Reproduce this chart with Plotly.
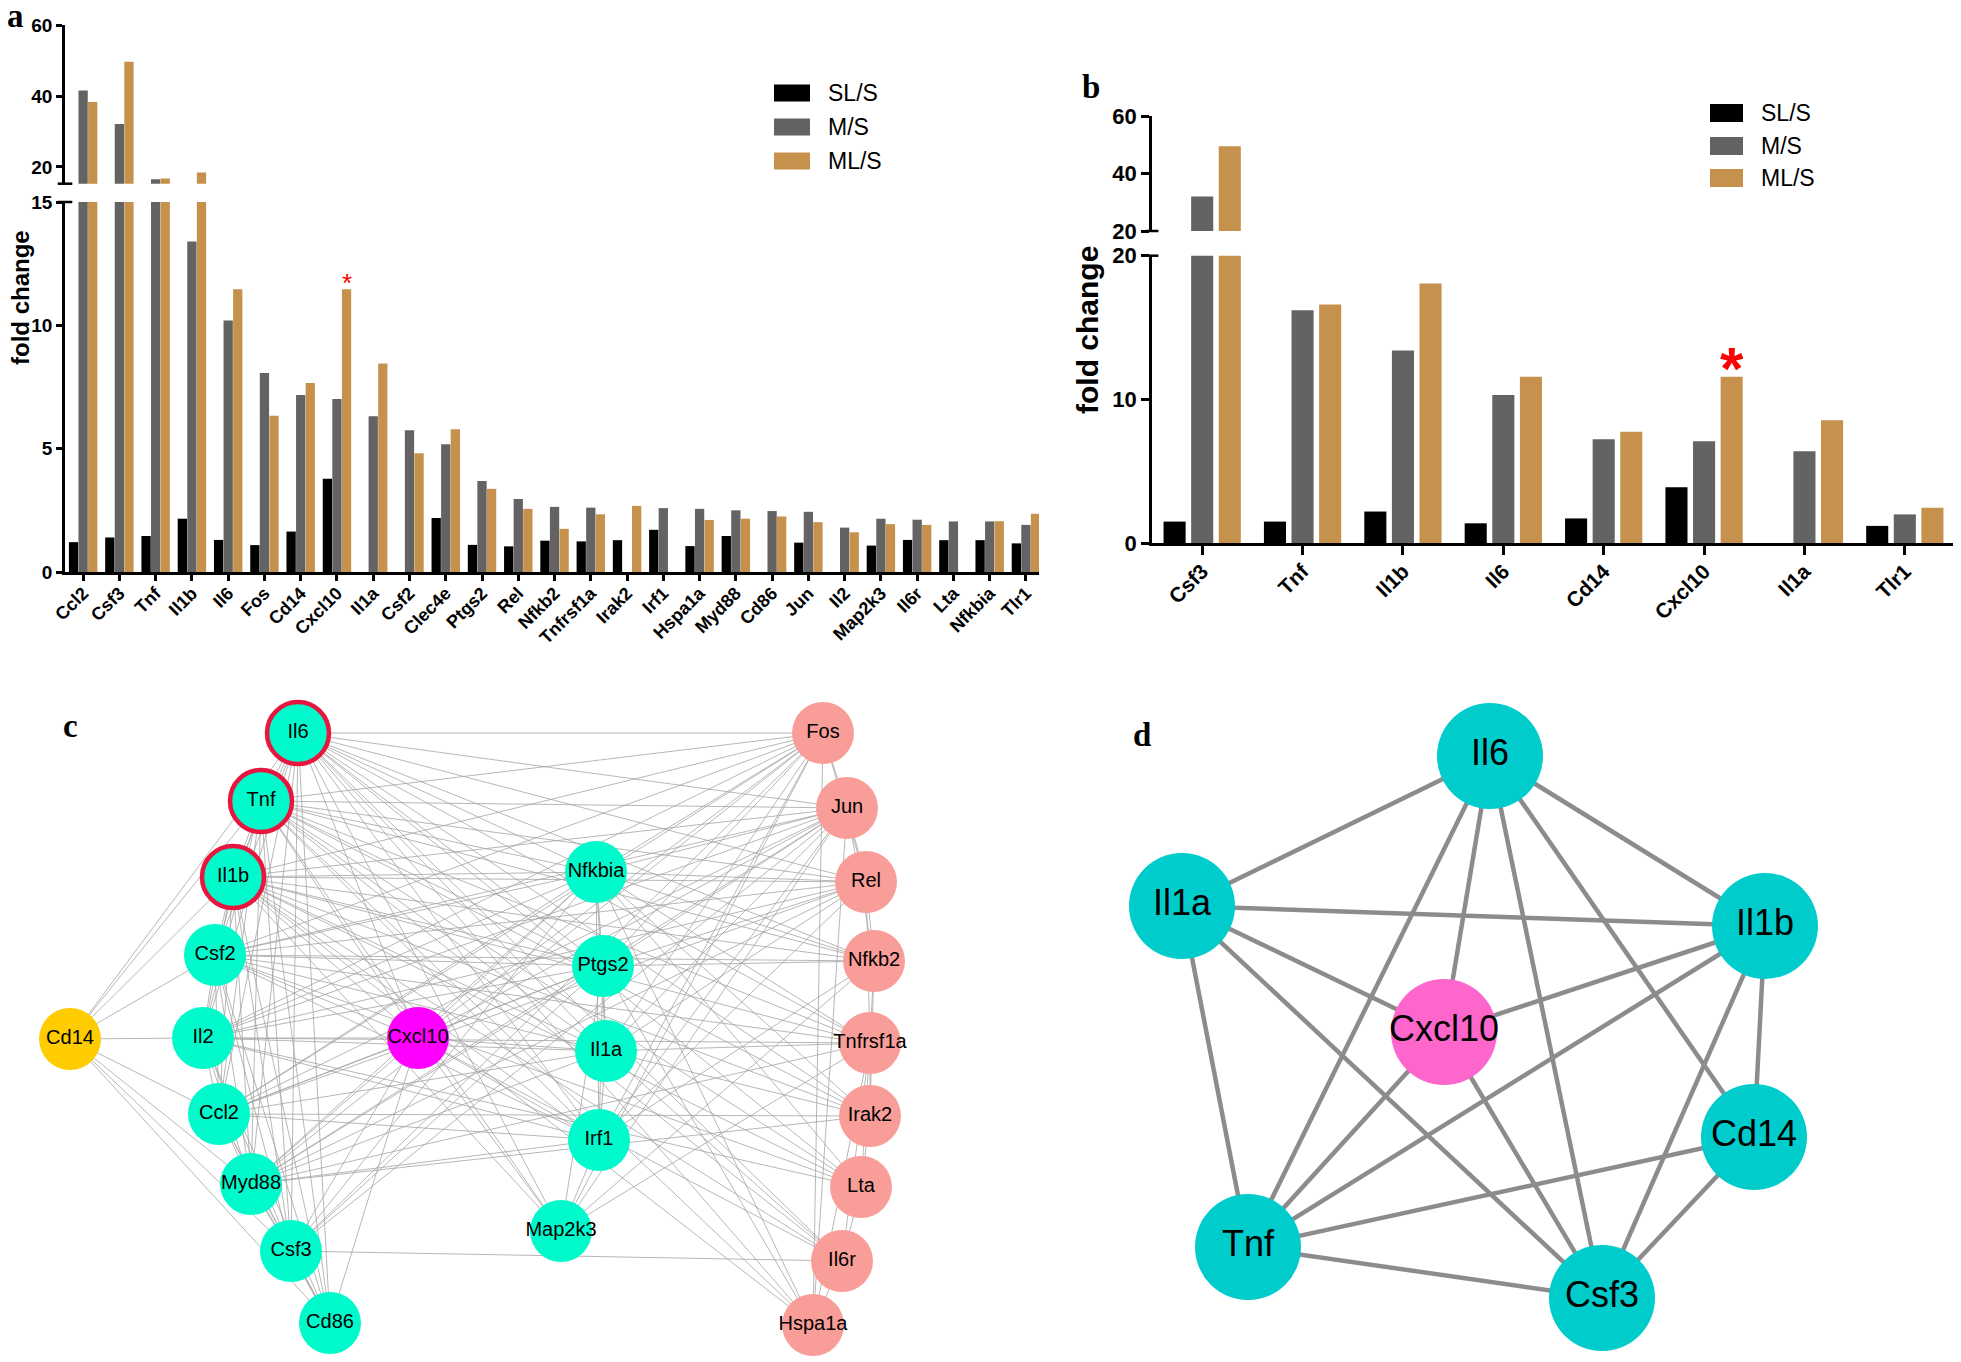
import plotly.graph_objects as go

W, H = 1961, 1362
PAD = 8                      # browser body margin
FW, FH = W - PAD, H - PAD    # figure size

# ---------------- Panel a data ----------------
genes_a = ["Ccl2", "Csf3", "Tnf", "Il1b", "Il6", "Fos", "Cd14", "Cxcl10", "Il1a", "Csf2",
           "Clec4e", "Ptgs2", "Rel", "Nfkb2", "Tnfrsf1a", "Irak2", "Irf1", "Hspa1a", "Myd88",
           "Cd86", "Jun", "Il2", "Map2k3", "Il6r", "Lta", "Nfkbia", "Tlr1"]
sl_a = [1.21, 1.40, 1.46, 2.16, 1.30, 1.09, 1.64, 3.78, 0, 0, 2.19, 1.10, 1.04, 1.27, 1.24,
        1.29, 1.71, 1.05, 1.46, 0, 1.19, 0, 1.07, 1.30, 1.29, 1.29, 1.16]
m_a = [41.6, 32.1, 16.5, 13.4, 10.2, 8.07, 7.18, 7.01, 6.31, 5.75, 5.18, 3.69, 2.96, 2.64,
       2.61, 0, 2.59, 2.56, 2.50, 2.47, 2.44, 1.80, 2.16, 2.12, 2.05, 2.05, 1.91]
ml_a = [38.3, 49.7, 16.7, 18.4, 11.46, 6.33, 7.66, 11.46, 8.45, 4.81, 5.79, 3.37, 2.56, 1.75,
        2.34, 2.68, 0, 2.11, 2.16, 2.25, 2.02, 1.61, 1.94, 1.91, 0, 2.06, 2.36]

# ---------------- Panel b data ----------------
genes_b = ["Csf3", "Tnf", "Il1b", "Il6", "Cd14", "Cxcl10", "Il1a", "Tlr1"]
sl_b = [1.49, 1.49, 2.19, 1.37, 1.71, 3.88, 0, 1.19]
m_b = [32.0, 16.2, 13.4, 10.3, 7.23, 7.08, 6.39, 1.99]
ml_b = [49.6, 16.6, 18.06, 11.58, 7.75, 11.58, 8.55, 2.46]

series_names = ["SL/S", "M/S", "ML/S"]
series_colors = ["#000000", "#636363", "#C5914D"]

# ---------------- Panel c network ----------------
c_nodes = ["Il6", "Tnf", "Il1b", "Csf2", "Cd14", "Il2", "Cxcl10", "Ccl2", "Myd88", "Csf3", "Cd86",
           "Nfkbia", "Ptgs2", "Il1a", "Irf1", "Map2k3",
           "Fos", "Jun", "Rel", "Nfkb2", "Tnfrsf1a", "Irak2", "Lta", "Il6r", "Hspa1a"]
c_x = [298, 261, 233, 215, 70, 203, 418, 219, 251, 291, 330,
       596, 603, 606, 599, 561,
       823, 847, 866, 874, 870, 870, 861, 842, 813]
c_y = [733, 801, 877, 955, 1039, 1038, 1038, 1114, 1184, 1251, 1323,
       872, 966, 1051, 1140, 1231,
       733, 808, 882, 961, 1043, 1116, 1187, 1261, 1325]
c_group = ["hub", "hub", "hub", "core", "cd14", "core", "cxcl10", "core", "core", "core", "core",
           "core", "core", "core", "core", "core",
           "tf", "tf", "tf", "tf", "tf", "tf", "tf", "tf", "tf"]
c_edges = {
    "Il6": "Tnf Il1b Csf2 Il2 Ccl2 Myd88 Csf3 Cd86 Cd14 Cxcl10 Nfkbia Ptgs2 Il1a Irf1 Map2k3 Fos Jun Rel Nfkb2 Tnfrsf1a Irak2 Lta Il6r Hspa1a",
    "Tnf": "Il1b Csf2 Il2 Ccl2 Myd88 Csf3 Cd86 Cd14 Cxcl10 Nfkbia Ptgs2 Il1a Irf1 Map2k3 Fos Jun Rel Nfkb2 Tnfrsf1a Irak2 Lta Il6r Hspa1a",
    "Il1b": "Csf2 Il2 Ccl2 Myd88 Csf3 Cd86 Cd14 Cxcl10 Nfkbia Ptgs2 Il1a Irf1 Map2k3 Fos Jun Rel Nfkb2 Tnfrsf1a Irak2 Lta Il6r Hspa1a",
    "Csf2": "Il2 Ccl2 Myd88 Csf3 Cd86 Cd14 Cxcl10 Nfkbia Ptgs2 Il1a Irf1 Fos Jun Rel Nfkb2 Tnfrsf1a Lta",
    "Il2": "Ccl2 Myd88 Csf3 Cd86 Cd14 Cxcl10 Nfkbia Ptgs2 Il1a Irf1 Fos Jun Rel Lta Tnfrsf1a",
    "Ccl2": "Myd88 Csf3 Cd86 Cd14 Cxcl10 Nfkbia Ptgs2 Il1a Irf1 Fos Jun Rel Irak2",
    "Myd88": "Csf3 Cd86 Cd14 Cxcl10 Nfkbia Ptgs2 Il1a Irf1 Irak2 Tnfrsf1a Jun Rel Fos",
    "Csf3": "Cd86 Cd14 Cxcl10 Ptgs2 Nfkbia Il6r Jun Fos",
    "Cd86": "Cd14 Cxcl10",
    "Cxcl10": "Nfkbia Ptgs2 Il1a Irf1 Map2k3 Jun Fos Il6r",
    "Nfkbia": "Ptgs2 Il1a Irf1 Fos Jun Rel Nfkb2 Tnfrsf1a Irak2 Lta Hspa1a",
    "Ptgs2": "Il1a Irf1 Map2k3 Fos Jun Rel Nfkb2 Hspa1a",
    "Il1a": "Irf1 Fos Jun Rel Il6r Tnfrsf1a Irak2",
    "Irf1": "Map2k3 Fos Jun Rel Nfkb2",
    "Map2k3": "Fos Jun Nfkb2 Tnfrsf1a",
    "Fos": "Jun Rel Hspa1a",
    "Jun": "Rel Nfkb2 Hspa1a",
    "Rel": "Nfkb2 Tnfrsf1a",
    "Nfkb2": "Tnfrsf1a Irak2",
    "Tnfrsf1a": "Irak2 Lta Il6r Hspa1a",
    "Irak2": "Lta",
    "Lta": "Il6r",
    "Il6r": "Hspa1a",
}
c_colors = {"hub": "#00FACB", "core": "#00FACB", "cd14": "#FFCC00", "cxcl10": "#FF00FF", "tf": "#F99D99"}

# ---------------- Panel d network ----------------
d_nodes = ["Il6", "Il1a", "Il1b", "Cxcl10", "Cd14", "Tnf", "Csf3"]
d_x = [1490, 1182, 1765, 1444, 1754, 1248, 1602]
d_y = [756, 906, 926, 1032, 1137, 1247, 1298]
d_colors = ["#00CCCC", "#00CCCC", "#00CCCC", "#FF66CC", "#00CCCC", "#00CCCC", "#00CCCC"]
d_edges = [("Il6", "Il1a"), ("Il6", "Il1b"), ("Il6", "Cxcl10"), ("Il6", "Tnf"), ("Il6", "Csf3"),
           ("Il6", "Cd14"), ("Il1a", "Il1b"), ("Il1a", "Cxcl10"), ("Il1a", "Tnf"), ("Il1a", "Csf3"),
           ("Il1b", "Cxcl10"), ("Il1b", "Tnf"), ("Il1b", "Csf3"), ("Il1b", "Cd14"),
           ("Cxcl10", "Tnf"), ("Cxcl10", "Csf3"), ("Cd14", "Tnf"), ("Cd14", "Csf3"), ("Tnf", "Csf3")]

FONT = "Liberation Sans, Arial, sans-serif"
SERIF = "Liberation Serif, Times New Roman, serif"


def px(x):
    """reference-pixel x -> paper fraction"""
    return (x - PAD) / FW


def py(y):
    """reference-pixel y -> paper fraction"""
    return 1 - (y - PAD) / FH


fig = go.Figure()

# ---- bars (each panel: lower + upper segment of the broken axis) ----
wa, sa = 0.256, 0.264
wb, sb = 0.22, 0.275
for i, (vals_a, vals_b) in enumerate(zip([sl_a, m_a, ml_a], [sl_b, m_b, ml_b])):
    off_a = -1.5 * sa + i * sa + (sa - wa) / 2
    off_b = -1.5 * sb + i * sb + (sb - wb) / 2
    for xa, ya in (("x", "y"), ("x2", "y2")):
        fig.add_trace(go.Bar(x=genes_a, y=vals_a, width=wa, offset=off_a,
                             marker=dict(color=series_colors[i], line=dict(width=0)),
                             name=series_names[i], xaxis=xa, yaxis=ya, showlegend=False))
    for xa, ya in (("x3", "y3"), ("x4", "y4")):
        fig.add_trace(go.Bar(x=genes_b, y=vals_b, width=wb, offset=off_b,
                             marker=dict(color=series_colors[i], line=dict(width=0)),
                             name=series_names[i], xaxis=xa, yaxis=ya, showlegend=False))

# ---- panel c network ----
pos_c = {n: (x, y) for n, x, y in zip(c_nodes, c_x, c_y)}
ex, ey = [], []
for s, targets in c_edges.items():
    for t in targets.split():
        ex += [pos_c[s][0], pos_c[t][0], None]
        ey += [pos_c[s][1], pos_c[t][1], None]
fig.add_trace(go.Scatter(x=ex, y=ey, mode="lines", line=dict(color="#A4A4A4", width=0.8),
                         xaxis="x5", yaxis="y5", hoverinfo="skip", showlegend=False))
fig.add_trace(go.Scatter(
    x=c_x, y=c_y, mode="markers+text", text=c_nodes, textposition="middle center",
    textfont=dict(family=FONT, size=20, color="black"),
    marker=dict(size=62, color=[c_colors[g] for g in c_group],
                line=dict(color=["#E8163F" if g == "hub" else "rgba(0,0,0,0)" for g in c_group],
                          width=[4.5 if g == "hub" else 0 for g in c_group])),
    xaxis="x5", yaxis="y5", showlegend=False, cliponaxis=False))

# ---- panel d network ----
pos_d = {n: (x, y) for n, x, y in zip(d_nodes, d_x, d_y)}
dx, dy = [], []
for s, t in d_edges:
    dx += [pos_d[s][0], pos_d[t][0], None]
    dy += [pos_d[s][1], pos_d[t][1], None]
fig.add_trace(go.Scatter(x=dx, y=dy, mode="lines", line=dict(color="#8C8C8C", width=4.5),
                         xaxis="x6", yaxis="y6", hoverinfo="skip", showlegend=False))
fig.add_trace(go.Scatter(
    x=d_x, y=d_y, mode="markers+text", text=d_nodes, textposition="middle center",
    textfont=dict(family=FONT, size=36, color="black"),
    marker=dict(size=106, color=d_colors, line=dict(width=0)),
    xaxis="x6", yaxis="y6", showlegend=False, cliponaxis=False))

# ---- axes ----
axis_common = dict(showline=True, linecolor="black", linewidth=2.5, ticks="outside",
                   tickcolor="black", tickwidth=2.5, showgrid=False, zeroline=False)
tick_bold_a = dict(family=FONT, size=19, color="black", weight="bold")
tick_bold_b = dict(family=FONT, size=22, color="black", weight="bold")

xa_dom = [px(65), px(1039)]
xb_dom = [px(1152), px(1954)]
layout_axes = dict(
    xaxis=dict(domain=xa_dom, anchor="y", type="category", range=[-0.5, 26.36],
               tickangle=-45, ticklen=6, ticklabelstandoff=-5,
               tickfont=dict(family=FONT, size=18, color="black", weight="bold"), **axis_common),
    yaxis=dict(domain=[py(572), py(202)], anchor="x", range=[0, 15], tickvals=[0, 5, 10, 15],
               ticklen=6, tickfont=tick_bold_a, **axis_common),
    xaxis2=dict(domain=xa_dom, anchor="y2", type="category", matches="x", visible=False),
    yaxis2=dict(domain=[py(183.7), py(25.3)], anchor="x2", range=[15.25, 60],
                tickvals=[20, 40, 60], ticklen=6, tickfont=tick_bold_a, **axis_common),
    xaxis3=dict(domain=xb_dom, anchor="y3", type="category", range=[-0.5, 7.49],
                tickangle=-45, ticklen=9, ticklabelstandoff=-4,
                tickfont=dict(family=FONT, size=21, color="black", weight="bold"),
                **axis_common),
    yaxis3=dict(domain=[py(543), py(255.7)], anchor="x3", range=[0, 20], tickvals=[0, 10, 20],
                ticklen=8, tickfont=tick_bold_b, **axis_common),
    xaxis4=dict(domain=xb_dom, anchor="y4", type="category", matches="x3", visible=False),
    yaxis4=dict(domain=[py(231), py(116.4)], anchor="x4", range=[20, 60], tickvals=[20, 40, 60],
                ticklen=8, tickfont=tick_bold_b, **axis_common),
    xaxis5=dict(domain=[0, px(980.5)], anchor="y5", range=[PAD, 980.5], visible=False),
    yaxis5=dict(domain=[0, py(700)], anchor="x5", range=[H, 700], visible=False),
    xaxis6=dict(domain=[px(980.5), 1], anchor="y6", range=[980.5, W], visible=False),
    yaxis6=dict(domain=[0, py(700)], anchor="x6", range=[H, 700], visible=False),
)

# ---- axis-break caps ----
shapes = []
for xref, yref, yv in (("x domain", "y domain", 1), ("x2 domain", "y2 domain", 0),
                       ("x3 domain", "y3 domain", 1), ("x4 domain", "y4 domain", 0)):
    half = 0.008 if xref.startswith("x3") or xref.startswith("x4") else 0.0075
    shapes.append(dict(type="line", xref=xref, yref=yref, x0=-half, x1=half, y0=yv, y1=yv,
                       line=dict(color="black", width=2.5)))

# ---- legends (drawn) ----
annotations = []
legend_specs = [(774, 810, [93, 127, 161], 17, 826, 23), (1710, 1743, [113, 146, 178], 18, 1759, 23)]
for x0, x1, ys, hgt, tx, fs in legend_specs:
    for name, col, yc in zip(series_names, series_colors, ys):
        shapes.append(dict(type="rect", xref="paper", yref="paper", x0=px(x0), x1=px(x1),
                           y0=py(yc + hgt / 2), y1=py(yc - hgt / 2), fillcolor=col,
                           line=dict(width=0)))
        annotations.append(dict(xref="paper", yref="paper", x=px(tx), y=py(yc), text=name,
                                showarrow=False, xanchor="left", yanchor="middle",
                                font=dict(family=FONT, size=fs, color="black")))

# ---- significance stars ----
annotations.append(dict(xref="x", yref="y", x="Cxcl10", y=ml_a[genes_a.index("Cxcl10")],
                        xshift=9.6, yshift=6, text="*", showarrow=False, yanchor="middle",
                        font=dict(family=FONT, size=26, color="red")))
annotations.append(dict(xref="x3", yref="y3", x="Cxcl10", y=ml_b[genes_b.index("Cxcl10")],
                        xshift=27.5, yshift=8, text="*", showarrow=False, yanchor="middle",
                        font=dict(family=FONT, size=60, color="red", weight="bold")))

# ---- axis titles ----
annotations.append(dict(xref="paper", yref="paper", x=px(20), y=py(298), text="fold change",
                        textangle=-90, showarrow=False, xanchor="center", yanchor="middle",
                        font=dict(family=FONT, size=24, color="black", weight="bold")))
annotations.append(dict(xref="paper", yref="paper", x=px(1087), y=py(330), text="fold change",
                        textangle=-90, showarrow=False, xanchor="center", yanchor="middle",
                        font=dict(family=FONT, size=30, color="black", weight="bold")))

# ---- panel letters ----
for letter, lx, ly in (("a", 15, 16), ("b", 1091, 87), ("c", 70, 726), ("d", 1142, 735)):
    annotations.append(dict(xref="paper", yref="paper", x=px(lx), y=py(ly), text=letter,
                            showarrow=False, xanchor="center", yanchor="middle",
                            font=dict(family=SERIF, size=33, color="black", weight="bold")))

fig.update_layout(width=FW, height=FH, margin=dict(l=0, r=0, t=0, b=0, autoexpand=False),
                  paper_bgcolor="white", plot_bgcolor="white", barmode="overlay",
                  showlegend=False, shapes=shapes, annotations=annotations, **layout_axes)

fig.write_html("out.html")
